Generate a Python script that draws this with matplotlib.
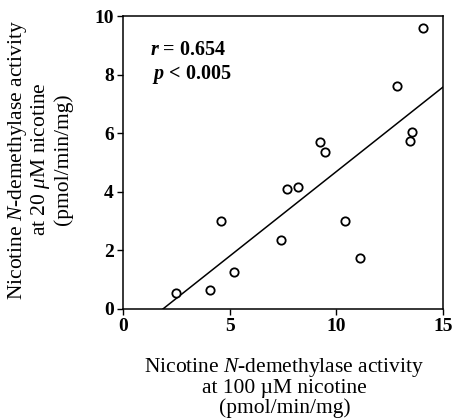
import numpy as np
import matplotlib
matplotlib.use("Agg")
import matplotlib.pyplot as plt

plt.rcParams['font.family'] = ['Liberation Serif', 'DejaVu Serif']
plt.rcParams['mathtext.fontset'] = 'custom'
plt.rcParams['mathtext.rm'] = 'Liberation Serif'
plt.rcParams['mathtext.it'] = 'Liberation Serif:italic'
plt.rcParams['mathtext.bf'] = 'Liberation Serif:bold'
plt.rcParams['mathtext.bfit'] = 'Liberation Serif:italic:bold'

# activity at 100 uM (x) vs 20 uM (y), pmol/min/mg
act_100uM = [2.5, 4.1, 4.6, 5.2, 7.4, 7.7, 8.2, 9.25, 9.45, 10.4, 11.1, 12.85, 13.45, 13.55, 14.05]
act_20uM = [0.55, 0.65, 3.0, 1.25, 2.35, 4.1, 4.15, 5.7, 5.35, 3.0, 1.75, 7.6, 5.75, 6.05, 9.6]

# regression line
fit_slope = 0.577
fit_intercept = -1.08
r_value = 0.654
p_text = "0.005"

xticks = [0, 5, 10, 15]
yticks = [0, 2, 4, 6, 8, 10]

fig = plt.figure(figsize=(4.56, 4.2), dpi=100)
ax = fig.add_axes([0.2697, 0.2643, 0.7018, 0.6976])

ax.plot(act_100uM, act_20uM, 'o', mfc='white', mec='black', ms=6, mew=1.3, zorder=3)

x0 = -fit_intercept / fit_slope
xs = np.array([x0, 15])
ax.plot(xs, fit_slope * xs + fit_intercept, color='black', lw=1.1)

ax.set_xlim(0, 15)
ax.set_ylim(0, 10)
ax.set_xticks(xticks)
ax.set_yticks(yticks)
ax.tick_params(direction='out', length=4, width=1.0, labelsize=14, pad=2.5)
for lab in ax.get_xticklabels() + ax.get_yticklabels():
    lab.set_fontweight('bold')
for sp in ax.spines.values():
    sp.set_linewidth(1.1)

ax.text(0.085, 0.884, r"$\mathbfit{r}$" + f" = {r_value:.3f}", transform=ax.transAxes,
        fontsize=14.5, fontweight='bold', va='center')
ax.text(0.09, 0.799, r"$\mathbfit{p}$" + f" < {p_text}", transform=ax.transAxes,
        fontsize=14.5, fontweight='bold', va='center')

fig.text(0.624, 0.078, "Nicotine $\\mathit{N}$-demethylase activity\nat 100 \u00b5M nicotine\n(pmol/min/mg)",
         ha='center', va='center', fontsize=15.5, linespacing=1.0)
fig.text(0.086, 0.62, "Nicotine $\\mathit{N}$-demethylase activity\nat 20 $\\mathit{\\mu}$M nicotine\n(pmol/min/mg)",
         ha='center', va='center', fontsize=15.5, linespacing=1.03, rotation=90)

fig.savefig("out.png", dpi=100)
